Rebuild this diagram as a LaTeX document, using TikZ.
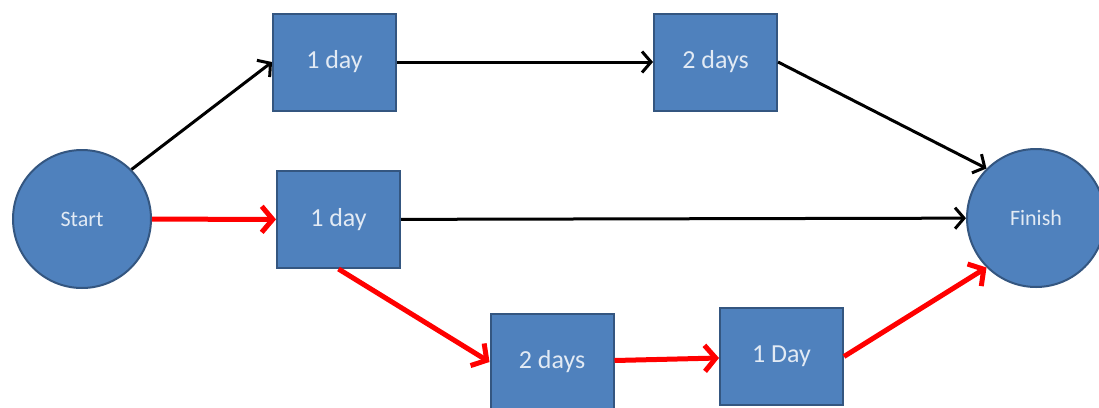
\documentclass[tikz,border=0pt]{standalone}
\usepackage{fontspec}
\setmainfont{Carlito}
\usetikzlibrary{arrows.meta}
\definecolor{boxblue}{RGB}{79,129,189}
\definecolor{boxedge}{RGB}{52,86,128}
\definecolor{labelcol}{RGB}{226,234,244}
\begin{document}
\begin{tikzpicture}[x=1pt,y=-1pt,
        task/.style={draw=boxedge,fill=boxblue,line width=2pt,minimum width=123pt,minimum height=97pt,inner sep=0,text=labelcol,font=\fontsize{26}{30}\selectfont},
        event/.style={draw=boxedge,fill=boxblue,line width=2pt,circle,minimum size=138pt,inner sep=0,text=labelcol,font=\fontsize{22}{26}\selectfont},
        link/.style={line width=3pt,-{Straight Barb[length=9pt,width=21pt]}},
        crit/.style={line width=5pt,red,-{Straight Barb[length=11pt,width=26pt]}}]
        \useasboundingbox (0,0) rectangle (1099,407);
        \node[event] (start) at (82,219) {Start};
        \node[event] (finish) at (1036,218) {Finish};
        \node[task] (a) at (334.5,62) {1 day};
        \node[task] (b) at (715.5,62) {2 days};
        \node[task] (c) at (338.5,219.5) {1 day};
        \node[task] (d) at (552,362) {2 days};
        \node[task] (e) at (781.5,356.5) {1 Day};
        \draw[link] (start.45) -- (a.west);
        \draw[link] (a) -- (b);
        \draw[link] (b.east) -- (finish.135);
        \draw[link] (c) -- (finish);
        \draw[crit] (start) -- (c);
        \draw[crit] (c.south) -- (d.west);
        \draw[crit] (d) -- (e);
        \draw[crit] (e.east) -- (finish.225);
    \end{tikzpicture}
\end{document}
